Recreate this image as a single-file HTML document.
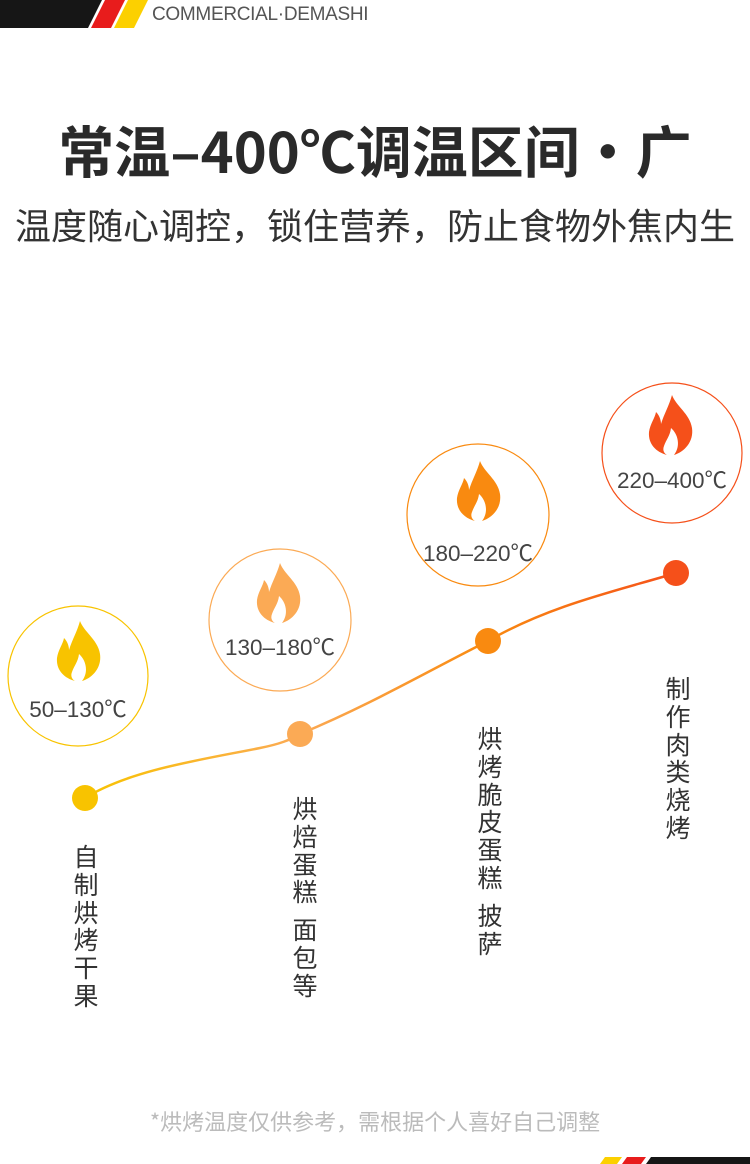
<!DOCTYPE html>
<html><head><meta charset="utf-8"><style>
body{margin:0;width:750px;height:1164px;background:#fff;position:relative;overflow:hidden;font-family:"Liberation Sans","Noto Sans CJK SC",sans-serif;}
.abs{position:absolute}
.vt{position:absolute;width:30px;font-size:25px;line-height:27.8px;color:#333;text-align:center;font-family:"Noto Sans CJK SC",sans-serif;}
.lbl{position:absolute;width:160px;text-align:center;font-size:22.5px;color:#444;}
</style></head><body>
<svg class="abs" style="left:0;top:0" width="750" height="1164">
<polygon points="0,0 102,0 88,28 0,28" fill="#161616"/>
<polygon points="105,0 125,0 111,28 91,28" fill="#e81c1c"/>
<polygon points="128,0 148,0 134,28 114,28" fill="#fcd000"/>
<polygon points="600,1164 605,1157 622,1157 617,1164" fill="#fcd000"/>
<polygon points="622,1164 627,1157 646,1157 641,1164" fill="#e81c1c"/>
<polygon points="646,1164 651,1157 750,1157 750,1164" fill="#161616"/>
<circle cx="78" cy="676" r="70" fill="none" stroke="#f8c300" stroke-width="1.2"/>
<circle cx="280" cy="620" r="71" fill="none" stroke="#fbaa55" stroke-width="1.2"/>
<circle cx="478" cy="515" r="71" fill="none" stroke="#f98a10" stroke-width="1.2"/>
<circle cx="672" cy="453" r="70" fill="none" stroke="#f5501a" stroke-width="1.2"/>
<defs>
<linearGradient id="g" x1="85" y1="0" x2="676" y2="0" gradientUnits="userSpaceOnUse">
<stop offset="0" stop-color="#f8c300"/><stop offset="0.36" stop-color="#fbaa55"/><stop offset="0.68" stop-color="#f98a10"/><stop offset="1" stop-color="#f5501a"/></linearGradient>
<path id="fl" d="M0,-29 C4,-18 18,-10 20,4 C22,18 12,28 2,31 C9,22 6,10 -1,4 C-2,12 -6,16 -8,22 C-10,27 -7,30 -5,31 C-16,28 -24,20 -23,8 C-22,0 -17,-6 -16,-12 C-12,-8 -11,-3 -11,0 C-8,-10 -3,-18 0,-29 Z"/>
</defs>
<path d="M85,798 C130,770 200,760 260,748 C280,744 290,740 300,734 C370,705 430,670 488,641 C550,605 620,590 676,573" fill="none" stroke="url(#g)" stroke-width="2.5"/>
<circle cx="85" cy="798" r="13" fill="#f8c300"/>
<circle cx="300" cy="734" r="13" fill="#fbaa55"/>
<circle cx="488" cy="641" r="13" fill="#f98a10"/>
<circle cx="676" cy="573" r="13" fill="#f5501a"/>
<use href="#fl" transform="translate(80,650)" fill="#f8c300"/>
<use href="#fl" transform="translate(280,592)" fill="#fbaa55"/>
<use href="#fl" transform="translate(480,490)" fill="#f98a10"/>
<use href="#fl" transform="translate(672,424)" fill="#f5501a"/>
</svg>
<div class="abs" style="left:152px;top:4px;font-size:19px;color:#555;letter-spacing:-0.3px">COMMERCIAL·DEMASHI</div>
<div class="abs" style="left:0;width:750px;top:113px;text-align:center;font-size:56px;font-weight:bold;color:#2a2a2a;font-family:'Noto Sans CJK SC',sans-serif;line-height:74px">常温–400℃调温区间·广</div>
<div class="abs" style="left:0;width:750px;top:199px;text-align:center;font-size:36px;color:#333;font-family:'Noto Sans CJK SC',sans-serif;line-height:50px">温度随心调控，锁住营养，防止食物外焦内生</div>
<div class="lbl" style="left:-2px;top:692px">50–130℃</div>
<div class="lbl" style="left:200px;top:630px">130–180℃</div>
<div class="lbl" style="left:398px;top:536px">180–220℃</div>
<div class="lbl" style="left:592px;top:463px">220–400℃</div>
<div class="vt" style="left:71px;top:843px">自<br>制<br>烘<br>烤<br>干<br>果</div>
<div class="vt" style="left:290px;top:795px">烘<br>焙<br>蛋<br>糕<br><span style="display:block;height:10px"></span>面<br>包<br>等</div>
<div class="vt" style="left:475px;top:725px">烘<br>烤<br>脆<br>皮<br>蛋<br>糕<br><span style="display:block;height:10px"></span>披<br>萨</div>
<div class="vt" style="left:663px;top:675px">制<br>作<br>肉<br>类<br>烧<br>烤</div>
<div class="abs" style="left:0;width:750px;top:1105px;text-align:center;font-size:22px;color:#bbb;font-family:'Noto Sans CJK SC',sans-serif">*烘烤温度仅供参考，需根据个人喜好自己调整</div>
</body></html>
